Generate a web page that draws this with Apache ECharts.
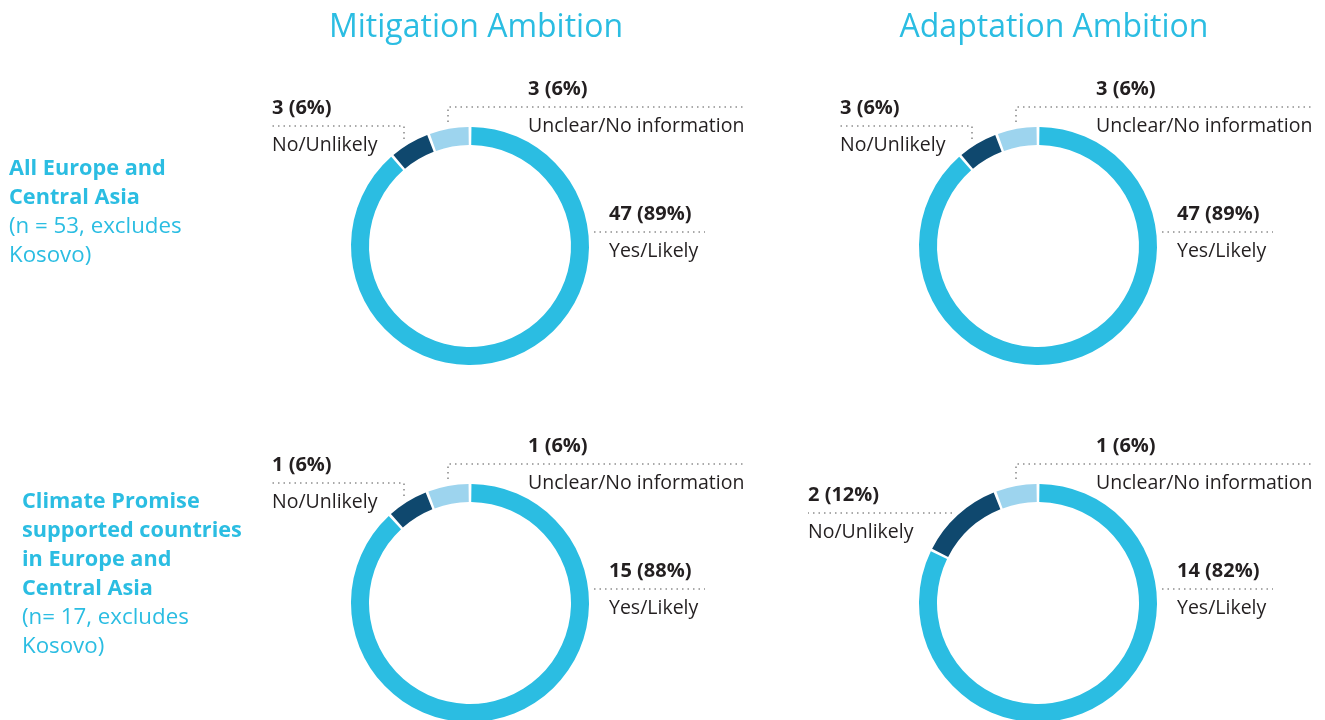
<!DOCTYPE html>
<html>
<head>
<meta charset="utf-8">
<script src="https://cdn.jsdelivr.net/npm/echarts@6/dist/echarts.min.js"></script>
<style>
html,body{margin:0;padding:0;background:#fff;}
#chart{width:1325px;height:720px;}
</style>
</head>
<body>
<div id="chart"></div>
<script>
// ---- data ----
const categories = ['Yes/Likely', 'No/Unlikely', 'Unclear/No information'];
const columnTitles = ['Mitigation Ambition', 'Adaptation Ambition'];
const mitigationAll = [47, 3, 3];
const adaptationAll = [47, 3, 3];
const mitigationCP = [15, 1, 1];
const adaptationCP = [14, 2, 1];
const rowLabelAllBold = ['All Europe and', 'Central Asia'];
const rowLabelAllNote = ['(n = 53, excludes', 'Kosovo)'];
const rowLabelCPBold = ['Climate Promise', 'supported countries', 'in Europe and', 'Central Asia'];
const rowLabelCPNote = ['(n= 17, excludes', 'Kosovo)'];

// ---- style ----
const FONT = '"Open Sans", "Liberation Sans", sans-serif';
const CYAN = '#2bbde2';
const colors = ['#2bbde2', '#0f486e', '#9dd4ee'];
const TEXT = '#231f20';

// label layouts relative to pie center: text left, dotted line y, guide points
const layoutStd = [
  { tx: 139, ly: -14, pts: [[124, -14], [124, -14], [235, -14]] },
  { tx: -198, ly: -120, pts: [[-66, -107], [-66, -120], [-198, -120]] },
  { tx: 58, ly: -139, pts: [[-22, -124], [-22, -139], [275, -139]] }
];
const layoutNoWide = { tx: -230, ly: -90, pts: [[-86, -90], [-86, -90], [-230, -90]] };

function makeSeries(values, cx, cy, layouts) {
  const total = values.reduce((a, b) => a + b, 0);
  return {
    type: 'pie',
    center: [cx, cy],
    radius: [101, 119],
    startAngle: 90,
    clockwise: true,
    padAngle: 1.4,
    silent: true,
    avoidLabelOverlap: false,
    data: values.map((v, i) => ({
      value: v,
      name: categories[i],
      itemStyle: { color: colors[i] }
    })),
    label: {
      show: true,
      formatter: function (p) {
        const pct = Math.round(p.value / total * 100);
        return '{v|' + p.value + ' (' + pct + '%)}\n{n|' + p.name + '}';
      },
      rich: {
        v: { fontFamily: FONT, fontSize: 20, fontWeight: 'bold', color: TEXT, lineHeight: 37 },
        n: { fontFamily: FONT, fontSize: 19.5, color: TEXT, lineHeight: 37 }
      }
    },
    labelLine: {
      show: true,
      lineStyle: { type: [1.5, 4], width: 1.6, color: '#8e8e8e' }
    },
    labelLayout: function (params) {
      const L = layouts[params.dataIndex];
      return {
        x: cx + L.tx,
        y: cy + L.ly + 1,
        align: 'left',
        verticalAlign: 'middle',
        labelLinePoints: L.pts.map(p => [cx + p[0], cy + p[1]])
      };
    }
  };
}

function textLines(lines, x, y0, step, bold) {
  return lines.map((t, i) => ({
    type: 'text',
    x: x,
    y: y0 + i * step,
    style: {
      text: t,
      fill: CYAN,
      font: (bold ? 'bold 21.7px ' : '22.3px ') + FONT,
      textAlign: 'left',
      textVerticalAlign: 'middle'
    }
  }));
}

const chart = echarts.init(document.getElementById('chart'), null, { renderer: 'canvas' });

const STEP = 29;
const graphics = [
  { type: 'text', x: 476, y: 28, style: { text: columnTitles[0], fill: CYAN, font: '32px ' + FONT, textAlign: 'center', textVerticalAlign: 'middle' } },
  { type: 'text', x: 1054, y: 28, style: { text: columnTitles[1], fill: CYAN, font: '32px ' + FONT, textAlign: 'center', textVerticalAlign: 'middle' } }
]
  .concat(textLines(rowLabelAllBold, 9, 169, STEP, true))
  .concat(textLines(rowLabelAllNote, 9, 169 + 2 * STEP, STEP, false))
  .concat(textLines(rowLabelCPBold, 22, 502, STEP, true))
  .concat(textLines(rowLabelCPNote, 22, 502 + 4 * STEP, STEP, false));

chart.setOption({
  animation: false,
  backgroundColor: '#fff',
  graphic: graphics,
  series: [
    makeSeries(mitigationAll, 470, 246, layoutStd),
    makeSeries(adaptationAll, 1038, 246, layoutStd),
    makeSeries(mitigationCP, 470, 603, layoutStd),
    makeSeries(adaptationCP, 1038, 603, [layoutStd[0], layoutNoWide, layoutStd[2]])
  ]
});
</script>
</body>
</html>
